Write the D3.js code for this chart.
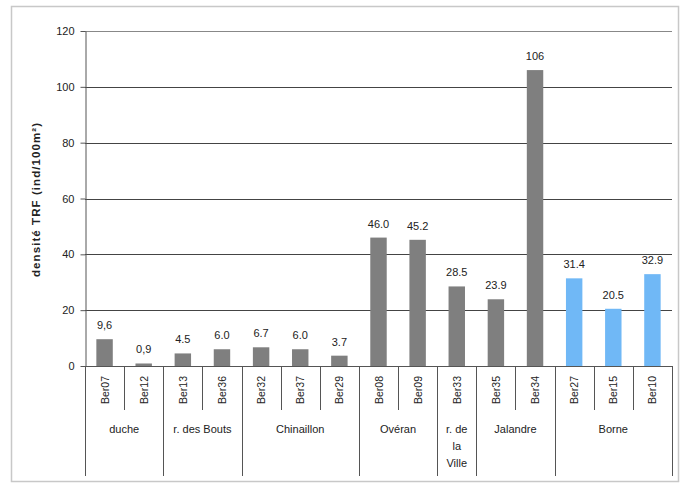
<!DOCTYPE html>
<html><head><meta charset="utf-8">
<script src="https://cdn.jsdelivr.net/npm/d3@7"></script>
<style>body{margin:0;background:#fff}svg{display:block}text{font-family:"Liberation Sans",Arial,sans-serif;fill:#222}</style>
</head><body>
<script>
const samples = ["Ber07","Ber12","Ber13","Ber36","Ber32","Ber37","Ber29","Ber08","Ber09","Ber33","Ber35","Ber34","Ber27","Ber15","Ber10"];
const values = [9.6,0.9,4.5,6.0,6.7,6.0,3.7,46.0,45.2,28.5,23.9,106,31.4,20.5,32.9];
const valueLabels = ["9,6","0,9","4.5","6.0","6.7","6.0","3.7","46.0","45.2","28.5","23.9","106","31.4","20.5","32.9"];
const sites = ["duche","duche","r. des Bouts","r. des Bouts","Chinaillon","Chinaillon","Chinaillon","Ovéran","Ovéran","r. de la Ville","Jalandre","Jalandre","Borne","Borne","Borne"];
const groupNames = ["duche","r. des Bouts","Chinaillon","Ovéran","r. de la Ville","Jalandre","Borne"];
const groupLines = [["duche"],["r. des Bouts"],["Chinaillon"],["Ovéran"],["r. de","la","Ville"],["Jalandre"],["Borne"]];
const highlighted = ["Ber27","Ber15","Ber10"];
const yTicks = [0,20,40,60,80,100,120];
const yTitle = "densité TRF (ind/100m²)";

const W=682,H=491;
const L=85,R=672,T=31,B=366;
const svg=d3.select("body").append("svg").attr("width",W).attr("height",H);
svg.append("rect").attr("x",11.5).attr("y",6.5).attr("width",667).attr("height",475)
  .attr("fill","#fff").attr("stroke","#c8c8c8").attr("stroke-width",1.5);

const x=d3.scaleBand().domain(samples).range([L,R]).paddingInner(0.58).paddingOuter(0.29);
const step=x.step();
const y=d3.scaleLinear().domain([0,120]).range([B,T]);

// gridlines
svg.append("g").selectAll("line").data(yTicks.filter(d=>d>0)).join("line")
  .attr("x1",L).attr("x2",R).attr("y1",d=>Math.round(y(d))+0.5).attr("y2",d=>Math.round(y(d))+0.5)
  .attr("stroke",d=>d===120?"#888":"#444").attr("stroke-width",1);

// y axis
const ya=svg.append("g").attr("transform",`translate(${L+0.5},0)`)
  .call(d3.axisLeft(y).tickValues(yTicks).tickSize(5).tickPadding(6).tickSizeOuter(0));
ya.select(".domain").attr("stroke","#555");
ya.selectAll(".tick line").attr("stroke","#555");
ya.selectAll("text").attr("font-size",11).attr("fill","#333").style("font-family","'Liberation Sans',Arial,sans-serif");

svg.append("text").attr("transform",`translate(40,200) rotate(-90)`)
  .attr("text-anchor","middle").attr("font-size",11.5).attr("font-weight","bold")
  .attr("textLength",154).attr("lengthAdjust","spacing").text(yTitle);

// bars
svg.append("g").selectAll("rect").data(samples).join("rect")
  .attr("x",d=>x(d)).attr("width",x.bandwidth())
  .attr("y",(d,i)=>y(values[i])).attr("height",(d,i)=>y(0)-y(values[i]))
  .attr("fill",d=>highlighted.includes(d)?"#70b8f6":"#7f7f7f");

// value labels
svg.append("g").selectAll("text").data(samples).join("text")
  .attr("x",d=>x(d)+x.bandwidth()/2).attr("y",(d,i)=>y(values[i])-10)
  .attr("text-anchor","middle").attr("font-size",11).attr("fill","#333")
  .text((d,i)=>valueLabels[i]);

// x axis line
svg.append("line").attr("x1",L).attr("x2",R).attr("y1",B+0.5).attr("y2",B+0.5).attr("stroke","#555");

// category dividers
const bounds=d3.range(samples.length+1).map(i=>L+i*step);
svg.append("g").selectAll("line").data(bounds).join("line")
  .attr("x1",d=>Math.round(d)+0.5).attr("x2",d=>Math.round(d)+0.5)
  .attr("y1",B)
  .attr("y2",(d,i)=> (i===0||i===samples.length||sites[i]!==sites[i-1]) ? 476 : 410)
  .attr("stroke","#555");

// sample labels
svg.append("g").selectAll("text").data(samples).join("text")
  .attr("transform",d=>`translate(${x(d)+x.bandwidth()/2+4},376) rotate(-90)`)
  .attr("text-anchor","end").attr("font-size",10.5).attr("fill","#333").text(d=>d);

// group labels
groupNames.forEach((g,gi)=>{
  const idx=sites.map((s,i)=>s===g?i:-1).filter(i=>i>=0);
  const cx=(bounds[idx[0]]+bounds[idx[idx.length-1]+1])/2;
  const t=svg.append("text").attr("x",cx).attr("y",433).attr("text-anchor","middle").attr("font-size",11).attr("fill","#333");
  groupLines[gi].forEach((ln,li)=>t.append("tspan").attr("x",cx).attr("dy",li===0?0:17).text(ln));
});
</script>
</body></html>
